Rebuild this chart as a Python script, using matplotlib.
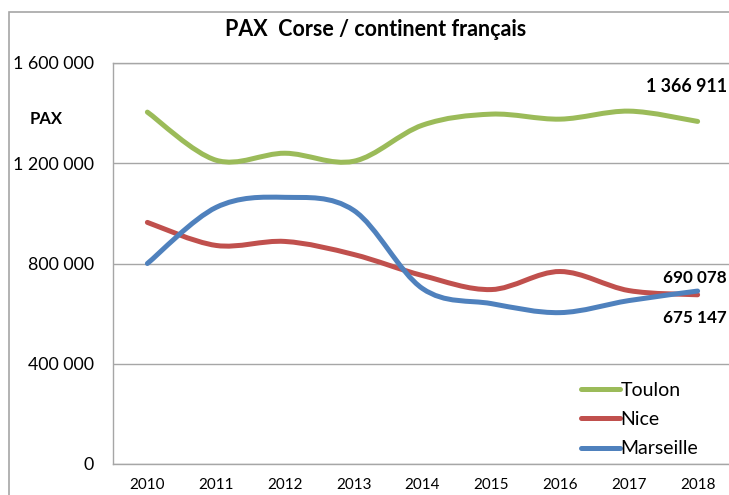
import numpy as np
import matplotlib
matplotlib.use("Agg")
import matplotlib.pyplot as plt
from matplotlib.path import Path
from matplotlib.patches import PathPatch, Rectangle
from matplotlib.lines import Line2D

years = ["2010", "2011", "2012", "2013", "2014", "2015", "2016", "2017", "2018"]
toulon = [1404000, 1212000, 1240000, 1208000, 1352000, 1396000, 1376000, 1408000, 1366911]
nice = [964000, 872000, 888000, 836000, 752000, 696000, 768000, 692000, 675147]
marseille = [800000, 1024000, 1064000, 1012000, 700000, 640000, 604000, 652000, 690078]

yticks = [0, 400000, 800000, 1200000, 1600000]
ytick_labels = ["0", "400 000", "800 000", "1 200 000", "1 600 000"]

colors = {"Toulon": "#9BBB59", "Nice": "#C0504D", "Marseille": "#4F81BD"}

plt.rcParams['font.family'] = ['Lato', 'DejaVu Sans']


def smooth_path(xs, ys, tension=1 / 6):
    """Excel-style smoothed line: cubic bezier through every data point."""
    xs = np.asarray(xs, float)
    ys = np.asarray(ys, float)
    n = len(xs)
    verts = [(xs[0], ys[0])]
    codes = [Path.MOVETO]
    for i in range(n - 1):
        p0 = np.array([xs[max(i - 1, 0)], ys[max(i - 1, 0)]])
        p1 = np.array([xs[i], ys[i]])
        p2 = np.array([xs[i + 1], ys[i + 1]])
        p3 = np.array([xs[min(i + 2, n - 1)], ys[min(i + 2, n - 1)]])
        c1 = p1 + (p2 - p0) * tension
        c2 = p2 - (p3 - p1) * tension
        verts += [tuple(c1), tuple(c2), tuple(p2)]
        codes += [Path.CURVE4] * 3
    return Path(verts, codes)


fig = plt.figure(figsize=(7.29, 4.95), dpi=100)
ax = fig.add_axes([113 / 729, 31 / 495, 619 / 729, 401 / 495])

# outer chart frame (cut off on the right and bottom)
fig.patches.append(Rectangle((9 / 729, -0.05), 1.2, (495 - 12) / 495 + 0.05,
                             transform=fig.transFigure, fill=False,
                             edgecolor="#A6A6A6", linewidth=1.2))

x = np.arange(len(years))
for name, vals in [("Toulon", toulon), ("Nice", nice), ("Marseille", marseille)]:
    patch = PathPatch(smooth_path(x, vals), facecolor="none",
                      edgecolor=colors[name], linewidth=3.6, capstyle="round",
                      zorder=3)
    ax.add_patch(patch)

ax.set_xlim(-0.5, 8.5)
ax.set_ylim(0, 1600000)
ax.set_xticks(x)
ax.set_xticklabels(years, fontsize=11)
ax.set_yticks(yticks)
ax.set_yticklabels(ytick_labels, fontsize=12.8)
ax.tick_params(axis="both", length=0)
ax.tick_params(axis="y", pad=13.5)
ax.tick_params(axis="x", pad=10)
ax.grid(axis="y", color="#A6A6A6", linewidth=1.0)
ax.set_axisbelow(True)
for side in ["left", "bottom", "top"]:
    ax.spines[side].set_color("#A6A6A6")
    ax.spines[side].set_linewidth(1.0)
ax.spines["right"].set_visible(False)

fig.text(376 / 729, 1 - 30 / 495, "PAX  Corse / continent français",
         ha="center", va="center", fontsize=15.5, fontweight="bold")
fig.text(46 / 729, 1 - 119 / 495, "PAX", ha="center", va="center",
         fontsize=12, fontweight="bold")

ax.annotate("1 366 911", (8, toulon[-1]), xytext=(727 / 729, 1 - 86 / 495),
            textcoords="figure fraction", ha="right", va="center",
            fontsize=12.8, fontweight="bold")
ax.annotate("690 078", (8, marseille[-1]), xytext=(727 / 729, 1 - 278 / 495),
            textcoords="figure fraction", ha="right", va="center",
            fontsize=12.3, fontweight="bold")
ax.annotate("675 147", (8, nice[-1]), xytext=(727 / 729, 1 - 318 / 495),
            textcoords="figure fraction", ha="right", va="center",
            fontsize=12.3, fontweight="bold")

handles = [Line2D([], [], color=colors[n], linewidth=3.6, solid_capstyle="round")
           for n in ["Toulon", "Nice", "Marseille"]]
ax.legend(handles, ["Toulon", "Nice", "Marseille"], loc="upper left",
          bbox_to_anchor=(575 / 729, 1 - 376 / 495), bbox_transform=fig.transFigure,
          frameon=False, fontsize=14, handlelength=2.0, handletextpad=0.05,
          labelspacing=0.63, borderaxespad=0, borderpad=0.3)

fig.savefig("out.png", dpi=100)
